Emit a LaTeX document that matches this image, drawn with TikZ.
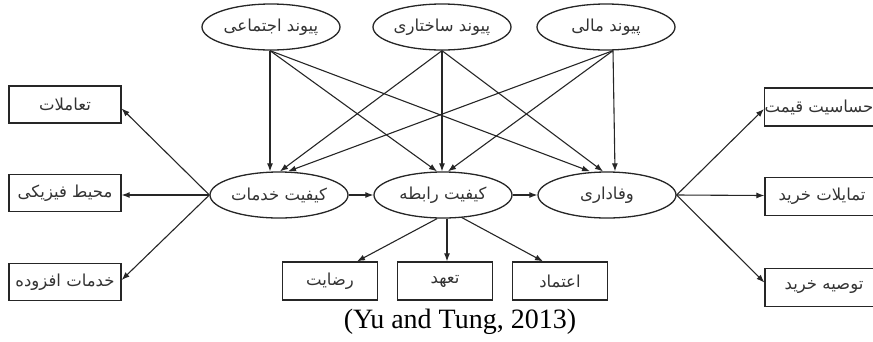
\documentclass[tikz,border=0pt]{standalone}
\usepackage{fontspec}
\setmainfont{Liberation Serif}
\newfontfamily\fa[Script=Arabic]{DejaVu Sans}
\TeXXeTstate=1
\usetikzlibrary{shapes.geometric,arrows.meta,calc}
\newcommand{\fatext}[1]{\fa\beginR #1\endR}
\begin{document}
\begin{tikzpicture}[x=1pt,y=-1pt,
  ell/.style={draw=black!85,ellipse,line width=1.3pt,minimum width=138pt,minimum height=46pt,inner sep=0pt,text=black!80,font=\fontsize{16.5}{18}\selectfont},
  box/.style={draw=black!85,rectangle,line width=1.3pt,minimum width=112pt,minimum height=37pt,inner sep=0pt,text=black!80,font=\fontsize{16.5}{18}\selectfont},
  sbox/.style={box,minimum width=95pt,minimum height=38pt},
  rbox/.style={box,minimum width=118pt,minimum height=38pt},
  arr/.style={-{Latex[length=8pt,width=6pt]},line width=1.1pt,draw=black!85}]
\useasboundingbox (0,0) rectangle (873,341);
% top
\node[ell] (S)  at (271,27) {\fatext{پیوند اجتماعی}};
\node[ell] (St) at (442,27) {\fatext{پیوند ساختاری}};
\node[ell] (F)  at (606,27) {\fatext{پیوند مالی}};
% middle
\node[ell] (SQ) at (279,195) {\fatext{کیفیت خدمات}};
\node[ell] (RQ) at (443,195) {\fatext{کیفیت رابطه}};
\node[ell] (L)  at (607,195) {\fatext{وفاداری}};
% left boxes
\node[box] (b1) at (65,104.5) {\fatext{تعاملات}};
\node[box] (b2) at (65,193) {\fatext{محیط فیزیکی}};
\node[box] (b3) at (65,282) {\fatext{خدمات افزوده}};
% right boxes
\node[rbox] (r1) at (824,107) {\fatext{حساسیت قیمت}\hspace*{10pt}};
\node[rbox] (r2) at (824,196.5) {\fatext{تمایلات خرید}\hspace*{4pt}};
\node[rbox] (r3) at (824,287.5) {\fatext{توصیه خرید}};
% bottom boxes
\node[sbox] (c1) at (330,281) {\fatext{رضایت}};
\node[sbox] (c2) at (445,281) {\fatext{تعهد}};
\node[sbox] (c3) at (560,281) {\fatext{اعتماد}};
% caption
\node[anchor=base,font=\fontsize{28}{30}\selectfont,inner sep=0pt] (cap) at (460,328) {(Yu and Tung, 2013)};
% top to middle
\draw[arr] ($(S.south)+(-1,0)$) -- ($(SQ.north)+(-9,0)$);
\draw[arr] ($(S.south)+(-1,0)$) -- ($(RQ.north)+(-6,0)$);
\draw[arr] ($(S.south)+(-1,0)$) -- ($(L.north)+(-17,0)$);
\draw[arr] (St.south) -- ($(SQ.north)+(1,0)$);
\draw[arr] (St.south) -- ($(RQ.north)+(-1,0)$);
\draw[arr] (St.south) -- ($(L.north)+(-4,0)$);
\draw[arr] ($(F.south)+(7,0)$) -- ($(SQ.north)+(9,0)$);
\draw[arr] ($(F.south)+(7,0)$) -- ($(RQ.north)+(5,0)$);
\draw[arr] ($(F.south)+(7,0)$) -- ($(L.north)+(8,0)$);
% chain
\draw[arr] (SQ.east) -- (RQ.west);
\draw[arr] (RQ.east) -- (L.west);
% left
\draw[arr] (SQ.west) -- ($(b1.east)+(0,4)$);
\draw[arr] (SQ.west) -- ($(b2.east)+(0,2)$);
\draw[arr] (SQ.west) -- ($(b3.east)+(0,-2)$);
% right
\draw[arr] (L.east) -- ($(r1.west)+(0,2)$);
\draw[arr] (L.east) -- ($(r2.west)+(0,-1)$);
\draw[arr] (L.east) -- ($(r3.west)+(0,-5)$);
% bottom
\draw[arr] ($(RQ.south)+(-6,0)$) -- ($(c1.north)+(27,0)$);
\draw[arr] ($(RQ.south)+(4,0)$) -- ($(c2.north)+(2,0)$);
\draw[arr] ($(RQ.south)+(19,-1)$) -- ($(c3.north)+(-17,0)$);
\end{tikzpicture}
\end{document}
